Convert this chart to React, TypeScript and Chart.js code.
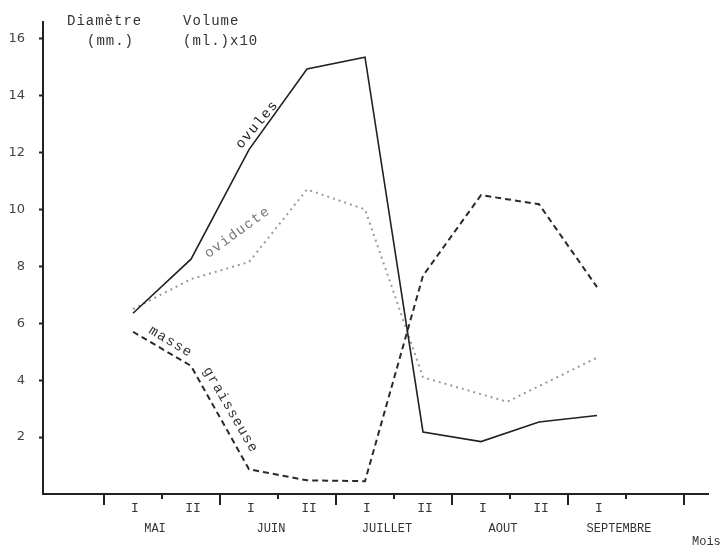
import React, { useEffect, useRef } from 'react';
import { Chart, registerables } from 'chart.js';

Chart.register(...registerables);

// Half-month index: 0 = MAI I, 1 = MAI II, ... 8 = SEPTEMBRE I
const halfMonths = [0, 1, 2, 3, 4, 5, 6, 7, 8];
const semiLabels = ['I', 'II', 'I', 'II', 'I', 'II', 'I', 'II', 'I'];
const months = ['MAI', 'JUIN', 'JUILLET', 'AOUT', 'SEPTEMBRE'];
const yTickValues = [2, 4, 6, 8, 10, 12, 14, 16];

const ovules = [6.35, 8.25, 12.1, 14.93, 15.35, 2.18, 1.84, 2.53, 2.76];
const oviducteX = [0, 1, 2, 3, 4, 5, 6.45, 8];
const oviducte = [6.5, 7.55, 8.15, 10.7, 10.0, 4.1, 3.24, 4.79];
const masseGraisseuse = [5.7, 4.5, 0.87, 0.48, 0.45, 7.67, 10.5, 10.18, 7.27];

const MONO = '"Liberation Mono", "DejaVu Sans Mono", monospace';

const annotate = {
  id: 'annotate',
  afterDraw(chart: any) {
    const { ctx, chartArea, scales } = chart;
    const x = scales.x;
    const y = scales.y;
    const bottom = chartArea.bottom;
    ctx.save();

    // x-axis tick marks
    ctx.strokeStyle = '#222';
    ctx.lineWidth = 2;
    for (let k = -0.5; k <= 9.5; k += 1) {
      const px = x.getPixelForValue(k);
      const major = Math.round(k + 0.5) % 2 === 0;
      ctx.beginPath();
      ctx.moveTo(px, bottom - 1);
      ctx.lineTo(px, bottom + (major ? 11 : 5));
      ctx.stroke();
    }

    // semi-month labels
    ctx.fillStyle = '#333';
    ctx.textAlign = 'center';
    ctx.textBaseline = 'middle';
    ctx.font = '13px ' + MONO;
    halfMonths.forEach((h, i) => {
      ctx.fillText(semiLabels[i], x.getPixelForValue(h) + 2, bottom + 15);
    });

    // month labels
    ctx.font = '12px ' + MONO;
    months.forEach((m, k) => {
      ctx.fillText(m, x.getPixelForValue(2 * k + 0.5) - 7, bottom + 35);
    });

    // header
    ctx.textAlign = 'left';
    ctx.textBaseline = 'alphabetic';
    ctx.font = '14px ' + MONO;
    (ctx as any).letterSpacing = '1px';
    ctx.fillStyle = '#333';
    ctx.fillText('Diamètre', chartArea.left + 24, 25);
    ctx.fillText('(mm.)', chartArea.left + 44, 45);
    ctx.fillText('Volume', chartArea.left + 140, 25);
    ctx.fillText('(ml.)x10', chartArea.left + 140, 45);

    // axis unit
    ctx.font = '12px ' + MONO;
    (ctx as any).letterSpacing = '0px';
    ctx.fillText('Mois', chartArea.right - 16, bottom + 51);

    // series labels along curves
    const labels = [
      { text: 'ovules', vx: 2.14, vy: 12.98, angle: -50, color: '#222' },
      { text: 'oviducte', vx: 1.8, vy: 9.19, angle: -36, color: '#777' },
      { text: 'masse', vx: 0.65, vy: 5.35, angle: 31, color: '#333' },
      { text: 'graisseuse', vx: 1.68, vy: 2.95, angle: 60, color: '#333' },
    ];
    ctx.font = '14px ' + MONO;
    (ctx as any).letterSpacing = '1.3px';
    ctx.textAlign = 'center';
    ctx.textBaseline = 'middle';
    labels.forEach((l) => {
      ctx.save();
      ctx.translate(x.getPixelForValue(l.vx), y.getPixelForValue(l.vy));
      ctx.rotate((l.angle * Math.PI) / 180);
      ctx.fillStyle = l.color;
      ctx.fillText(l.text, 0, 0);
      ctx.restore();
    });

    ctx.restore();
  },
};

export default function App() {
  const ref = useRef<HTMLCanvasElement | null>(null);

  useEffect(() => {
    const canvas = ref.current;
    if (!canvas) return;
    const chart = new Chart(canvas, {
      type: 'line',
      data: {
        datasets: [
          {
            label: 'ovules',
            data: halfMonths.map((h, i) => ({ x: h, y: ovules[i] })),
            borderColor: '#222',
            borderWidth: 1.6,
            pointRadius: 0,
            tension: 0,
            fill: false,
          },
          {
            label: 'oviducte',
            data: oviducteX.map((h, i) => ({ x: h, y: oviducte[i] })),
            borderColor: '#9a9a9a',
            borderWidth: 2,
            borderDash: [2, 4],
            pointRadius: 0,
            tension: 0,
            fill: false,
          },
          {
            label: 'masse graisseuse',
            data: halfMonths.map((h, i) => ({ x: h, y: masseGraisseuse[i] })),
            borderColor: '#2a2a2a',
            borderWidth: 2,
            borderDash: [6, 4],
            pointRadius: 0,
            tension: 0,
            fill: false,
          },
        ],
      },
      options: {
        animation: false,
        responsive: false,
        devicePixelRatio: 1,
        layout: { padding: { left: 0, top: 12, right: 17, bottom: 0 } },
        plugins: { legend: { display: false }, tooltip: { enabled: false } },
        scales: {
          x: {
            type: 'linear',
            min: -1.552,
            max: 9.914,
            ticks: { display: false },
            grid: { display: true, drawOnChartArea: false, drawTicks: false },
            border: { display: true, color: '#222', width: 2 },
            afterFit(s: any) {
              s.height = 53;
            },
          },
          y: {
            type: 'linear',
            min: 0,
            max: 16.59,
            afterBuildTicks(s: any) {
              s.ticks = yTickValues.map((v) => ({ value: v }));
            },
            ticks: {
              color: '#444',
              font: { family: 'DejaVu Sans', size: 13 },
              padding: 14,
            },
            grid: {
              display: true,
              drawOnChartArea: false,
              drawTicks: true,
              tickLength: 4,
              tickWidth: 2,
              tickColor: '#222',
            },
            border: { display: true, color: '#222', width: 2 },
            afterFit(s: any) {
              s.width = 43;
            },
          },
        },
      } as any,
      plugins: [annotate],
    });
    return () => chart.destroy();
  }, []);

  return (
    <div style={{ position: 'absolute', left: 0, top: 0, width: 725, height: 547, background: '#fff' }}>
      <canvas ref={ref} width={725} height={547} />
    </div>
  );
}
